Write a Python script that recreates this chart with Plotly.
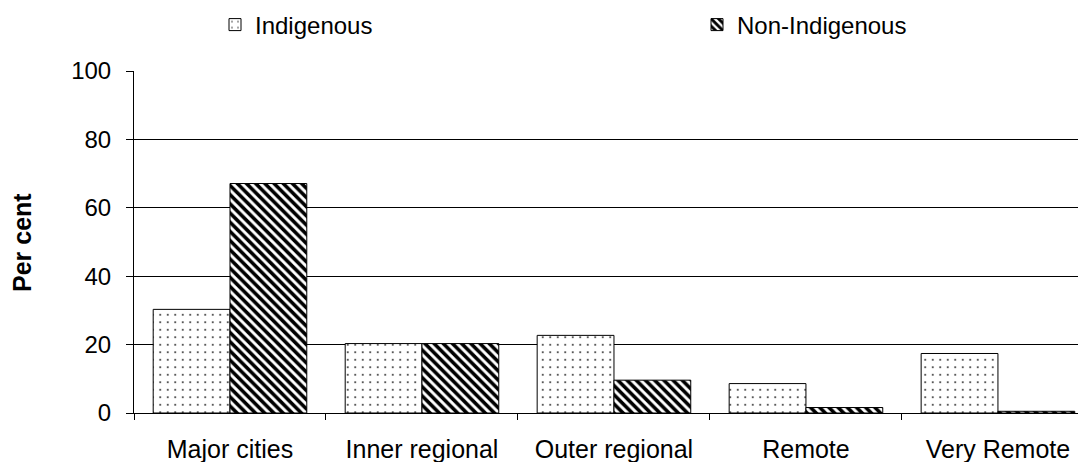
import plotly.graph_objects as go

categories = ["Major cities", "Inner regional", "Outer regional", "Remote", "Very Remote"]
indigenous = [30.3, 20.3, 22.7, 8.6, 17.4]
non_indigenous = [67.1, 20.3, 9.6, 1.6, 0.5]

FONT = "Liberation Sans, Arial, sans-serif"
PLOT_W = 1078 - 134
PLOT_H = 462 - 71 - 49

fig = go.Figure()
fig.add_trace(go.Bar(
    x=categories, y=indigenous, name="Indigenous", legend="legend",
    marker=dict(color="white", line=dict(color="black", width=1),
                pattern=dict(shape=".", fgcolor="#333", bgcolor="white", size=7.5, solidity=0.06,
                             fgopacity=1, fillmode="overlay")),
))
fig.add_trace(go.Bar(
    x=categories, y=non_indigenous, name="Non-Indigenous", legend="legend2",
    marker=dict(color="white", line=dict(color="black", width=1),
                pattern=dict(shape="\\", fgcolor="black", bgcolor="white", size=6.5, solidity=0.55,
                             fgopacity=1, fillmode="overlay")),
))

leg_common = dict(orientation="h", xanchor="left", y=1 + (71 - 25) / PLOT_H, yanchor="middle",
                  font=dict(family=FONT, size=24, color="black"), bgcolor="rgba(0,0,0,0)")

fig.update_layout(
    width=1078, height=462,
    margin=dict(l=134, r=0, t=71, b=49, autoexpand=False),
    paper_bgcolor="white", plot_bgcolor="white",
    font=dict(family=FONT, size=24, color="black"),
    barmode="group", bargap=0.2, bargroupgap=0,
    showlegend=True,
    legend=dict(x=(215 - 134) / PLOT_W, **leg_common),
    legend2=dict(x=(697 - 134) / PLOT_W, **leg_common),
    xaxis=dict(range=[-0.5, 4.417], showline=True, linecolor="black", linewidth=1,
               ticks="outside", ticklen=6, tickcolor="black", tickson="boundaries",
               tickfont=dict(family=FONT, size=25, color="black"), showgrid=False,
               zeroline=False, ticklabelstandoff=14),
    yaxis=dict(range=[0, 100], tickvals=[0, 20, 40, 60, 80, 100], showline=True,
               linecolor="black", linewidth=1, ticks="outside", ticklen=7, tickcolor="black",
               showgrid=True, gridcolor="black", gridwidth=1, zeroline=False,
               tickfont=dict(family=FONT, size=24, color="black"), ticklabelstandoff=10),
    annotations=[dict(text="<b>Per cent</b>", textangle=-90, xref="paper", yref="paper",
                      x=(22 - 134) / PLOT_W, y=0.497, xanchor="center", yanchor="middle",
                      showarrow=False, font=dict(family=FONT, size=25, color="black"))],
)

fig.write_html("out.html", config={"displayModeBar": False},
               post_script="document.body.style.margin='0';document.body.style.overflow='hidden';")
